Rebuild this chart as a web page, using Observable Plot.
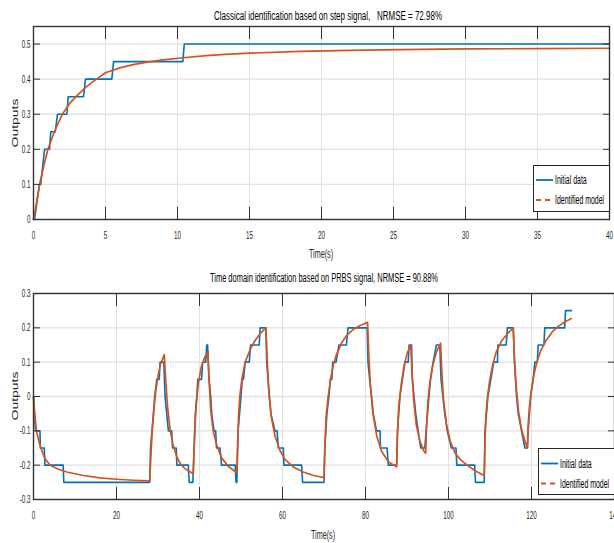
<!DOCTYPE html>
<html><head><meta charset="utf-8">
<script src="https://cdn.jsdelivr.net/npm/d3@7"></script>
<script src="https://cdn.jsdelivr.net/npm/@observablehq/plot@0.6"></script>
<style>
html,body{margin:0;padding:0;background:#fff;overflow:hidden;}
#wrap{position:relative;width:614px;height:543px;overflow:hidden;}
#wrap svg{position:absolute;left:0;}
</style></head><body><div id="wrap"></div>
<script>
// ---------- Top panel: step identification ----------
const stepTime  = [0, 0.07, 0.42, 0.5, 0.77, 1.11, 1.2, 1.51, 1.67, 2.32, 2.41, 3.47, 3.61, 5.44, 5.56, 10.37, 10.47, 40];
const stepData  = [0, 0, 0.1, 0.1, 0.2, 0.2, 0.25, 0.25, 0.3, 0.3, 0.35, 0.35, 0.4, 0.4, 0.45, 0.45, 0.5, 0.5];
const stepModelTime = [0, 0.2, 0.42, 0.7, 1.0, 1.45, 2.0, 2.5, 2.95, 3.6, 4.2, 5.0, 6.0, 7.0, 8.0, 9.0, 10.4, 12.0, 13.0, 15.0, 18.5, 22.0, 25.5, 30.0, 35.0, 40.0];
const stepModel     = [0, 0.045, 0.1, 0.15, 0.2, 0.25, 0.3, 0.33, 0.35, 0.376, 0.395, 0.418, 0.432, 0.442, 0.449, 0.455, 0.461, 0.467, 0.47, 0.474, 0.479, 0.482, 0.484, 0.486, 0.487, 0.488];
const stepXTicks = [0, 5, 10, 15, 20, 25, 30, 35, 40];
const stepXLabels = ["0", "5", "10", "15", "20", "25", "30", "35", "40"];
const stepYTicks = [0, 0.1, 0.2, 0.3, 0.4, 0.5];
const stepYLabels = ["0", "0.1", "0.2", "0.3", "0.4", "0.5"];

// ---------- Bottom panel: PRBS identification ----------
const prbsTime = [0,0.2,0.5,1.55,1.65,2.6,2.75,7.15,7.3,28.0,
 28.2,28.9,29.2,29.7,30.3,30.5,31.4,
 31.7,32.1,32.5,33.3,33.5,34.4,34.55,37.3,37.5,38.4,
 38.7,39.0,39.35,39.6,40.5,40.75,41.5,41.75,41.95,
 42.3,42.7,42.95,43.5,43.9,44.1,44.95,45.3,48.6,48.8,49.0,
 49.3,50.0,50.3,50.6,51.0,52.0,52.3,54.4,54.6,56.0,
 56.2,56.8,57.2,58.2,58.7,59.0,60.2,60.35,64.6,64.85,70.0,
 70.2,70.7,71.2,71.5,71.9,72.1,72.9,73.6,75.4,75.8,80.4,
 80.6,81.0,81.46,81.86,82.66,83.5,83.62,85.2,85.5,87.5,
 87.7,88.3,88.9,89.5,90.3,90.5,91.1,
 91.3,92.1,92.7,93.3,94.3,
 94.6,95.3,95.66,96.3,97.1,97.9,
 98.2,99.1,99.7,100.7,101.8,102.0,106.3,106.5,108.6,
 108.8,109.5,110.2,110.9,111.8,111.9,113.9,114.2,115.6,
 115.9,116.4,116.8,117.6,118.4,119.0,
 119.2,119.8,120.4,120.8,121.4,121.6,123.0,123.2,128.0,128.2,129.6];
const prbsData = [0,-0.05,-0.1,-0.1,-0.15,-0.15,-0.2,-0.2,-0.25,-0.25,
 -0.15,-0.05,0.0,0.05,0.05,0.1,0.1,
 0.0,-0.05,-0.1,-0.1,-0.15,-0.15,-0.2,-0.2,-0.25,-0.25,
 -0.15,-0.05,0.0,0.05,0.05,0.1,0.1,0.15,0.15,
 0.05,0.0,-0.05,-0.1,-0.1,-0.15,-0.15,-0.2,-0.2,-0.25,-0.25,
 -0.1,0.0,0.05,0.05,0.1,0.1,0.15,0.15,0.2,0.2,
 0.1,0.0,-0.05,-0.1,-0.1,-0.15,-0.15,-0.2,-0.2,-0.25,-0.25,
 -0.15,-0.05,0.0,0.05,0.05,0.1,0.1,0.15,0.15,0.2,0.2,
 0.1,0.05,0.0,-0.05,-0.1,-0.1,-0.15,-0.15,-0.2,-0.2,
 -0.1,0.0,0.05,0.1,0.1,0.15,0.15,
 0.05,-0.05,-0.1,-0.15,-0.15,
 -0.1,0.0,0.05,0.1,0.15,0.15,
 0.05,-0.05,-0.1,-0.15,-0.15,-0.2,-0.2,-0.25,-0.25,
 -0.1,0.0,0.05,0.1,0.1,0.15,0.15,0.2,0.2,
 0.1,0.0,-0.05,-0.1,-0.15,-0.15,
 -0.1,0.0,0.05,0.1,0.1,0.15,0.15,0.2,0.2,0.25,0.25];
const prbsModelTime = [0,0.3,0.7,1.5,2.7,4.0,6.0,8.0,12.0,16.0,20.0,24.0,28.0,
 28.3,28.6,29.0,29.5,30.0,30.6,31.5,
 31.9,32.3,32.9,33.6,34.5,35.5,36.5,38.5,
 38.7,38.9,39.3,39.8,40.4,41.2,42.0,
 42.3,42.7,43.3,44.1,45.3,46.9,49.0,
 49.2,49.4,49.7,50.2,51.0,52.2,53.4,54.6,56.0,
 56.3,56.7,57.3,58.2,59.4,60.6,62.6,65.0,67.5,70.0,
 70.2,70.5,71.0,71.6,72.2,73.0,74.2,75.4,77.0,78.6,80.5,
 80.8,81.2,81.8,82.7,83.9,85.5,87.5,
 87.7,88.0,88.6,89.3,90.1,90.9,
 91.2,91.6,92.2,93.1,94.0,94.5,
 94.7,95.0,95.5,96.2,97.1,98.1,
 98.4,98.8,99.5,100.4,101.6,102.8,104.5,106.5,108.6,
 108.8,109.0,109.4,109.9,110.6,111.5,112.7,114.2,115.6,
 115.9,116.3,116.9,117.6,118.4,119.0,
 119.2,119.5,120.0,120.6,121.3,122.2,123.5,125.0,126.5,128.0,129.6];
const prbsModel = [0,-0.05,-0.1,-0.14,-0.18,-0.2,-0.212,-0.22,-0.23,-0.237,-0.241,-0.244,-0.246,
 -0.17,-0.1,-0.04,0.02,0.06,0.093,0.122,
 0.04,-0.03,-0.095,-0.14,-0.175,-0.198,-0.21,-0.225,
 -0.15,-0.09,-0.01,0.045,0.085,0.113,0.13,
 0.05,-0.04,-0.1,-0.14,-0.178,-0.203,-0.222,
 -0.13,-0.06,0.0,0.05,0.1,0.137,0.163,0.183,0.2,
 0.11,0.02,-0.06,-0.115,-0.158,-0.183,-0.205,-0.22,-0.23,-0.236,
 -0.15,-0.06,0.0,0.05,0.09,0.122,0.155,0.177,0.195,0.206,0.216,
 0.12,0.03,-0.05,-0.115,-0.16,-0.19,-0.205,
 -0.12,-0.03,0.035,0.09,0.128,0.15,
 0.07,-0.01,-0.08,-0.13,-0.157,-0.165,
 -0.09,-0.02,0.04,0.09,0.13,0.155,
 0.07,-0.01,-0.08,-0.13,-0.165,-0.183,-0.2,-0.217,-0.23,
 -0.13,-0.06,0.0,0.045,0.09,0.13,0.16,0.183,0.2,
 0.11,0.03,-0.045,-0.095,-0.13,-0.15,
 -0.08,-0.03,0.02,0.065,0.1,0.133,0.163,0.188,0.205,0.217,0.227];
const prbsXTicks = [0, 20, 40, 60, 80, 100, 120, 140];
const prbsXLabels = ["0", "20", "40", "60", "80", "100", "120", "140"];
const prbsYTicks = [-0.3, -0.2, -0.1, 0, 0.1, 0.2, 0.3];
const prbsYLabels = ["-0.3", "-0.2", "-0.1", "0", "0.1", "0.2", "0.3"];

// ---------- Texts ----------
const titles = ["Classical identification based on step signal,   NRMSE = 72.98%",
                "Time domain identification based on PRBS signal, NRMSE = 90.88%"];
const xLabel = "Time(s)";
const yLabel = "Outputs";
const legendNames = ["Initial data", "Identified model"];

const BLUE = "#0072BD", ORANGE = "#D95319", AXIS = "#333333", GRID = "#e1e1e1";
const FONT = "'Liberation Sans', Arial, Helvetica, sans-serif";

function zipXY(t, v) { return t.map((d, i) => ({t: d, v: v[i]})); }

function panel(o) {
  const lab = (ticks, labels) => d => labels[ticks.indexOf(d)] ?? "";
  return Plot.plot({
    width: 614, height: o.height,
    marginTop: o.marginTop, marginBottom: o.marginBottom, marginLeft: 33, marginRight: o.marginRight,
    x: {domain: o.xDomain}, y: {domain: o.yDomain},
    style: {fontFamily: FONT, fontSize: "11px", color: "#262626", background: "transparent", overflow: "visible"},
    marks: [
      Plot.gridX(o.xTicks, {stroke: GRID, strokeOpacity: 1, strokeWidth: 1}),
      Plot.gridY(o.yTicks, {stroke: GRID, strokeOpacity: 1, strokeWidth: 1.3}),
      Plot.line(o.data, {x: "t", y: "v", stroke: BLUE, strokeWidth: 1.6}),
      Plot.line(o.model, {x: "t", y: "v", stroke: ORANGE, strokeWidth: 1.7}),
      Plot.frame({stroke: AXIS, strokeWidth: 1.4}),
      // inward tick marks on all four sides
      Plot.axisX(o.xTicks, {anchor: "bottom", tickSize: 12, dy: -12, tickFormat: () => "", label: null, stroke: AXIS}),
      Plot.axisX(o.xTicks, {anchor: "top", tickSize: 12, dy: 12, tickFormat: () => "", label: null, stroke: AXIS}),
      Plot.axisY(o.yTicks, {anchor: "left", tickSize: 7, dx: 7, tickFormat: () => "", label: null, stroke: AXIS}),
      Plot.axisY(o.yTicks, {anchor: "right", tickSize: 7, dx: -7, tickFormat: () => "", label: null, stroke: AXIS}),
      // tick labels
      Plot.axisX(o.xTicks, {anchor: "bottom", tickSize: 0, tickPadding: 12, tickFormat: lab(o.xTicks, o.xLabels), label: null, fill: "#262626"}),
      Plot.axisY(o.yTicks, {anchor: "left", tickSize: 0, tickPadding: 3, tickFormat: lab(o.yTicks, o.yLabels), label: null, fill: "#262626"})
    ]
  });
}

const wrap = document.getElementById("wrap");
const top1 = panel({
  height: 262, marginTop: 26, marginBottom: 43, marginRight: 5,
  xDomain: [0, 40], yDomain: [0, 0.55],
  xTicks: stepXTicks, xLabels: stepXLabels, yTicks: stepYTicks, yLabels: stepYLabels,
  data: zipXY(stepTime, stepData), model: zipXY(stepModelTime, stepModel)
});
top1.style.top = "0px";
wrap.appendChild(top1);

const bot = panel({
  height: 281, marginTop: 31, marginBottom: 44, marginRight: 0,
  xDomain: [0, 140], yDomain: [-0.3, 0.3],
  xTicks: prbsXTicks, xLabels: prbsXLabels, yTicks: prbsYTicks, yLabels: prbsYLabels,
  data: zipXY(prbsTime, prbsData), model: zipXY(prbsModelTime, prbsModel)
});
bot.style.top = "262px";
wrap.appendChild(bot);

// squeeze tick labels horizontally (the reference is a horizontally compressed MATLAB figure)
for (const svg of [top1, bot]) {
  svg.querySelectorAll("text").forEach(t => {
    const w = t.getComputedTextLength();
    if (w > 0) { t.setAttribute("textLength", (w * 0.57).toFixed(2)); t.setAttribute("lengthAdjust", "spacingAndGlyphs"); }
  });
}

// ---------- overlay: titles, axis labels, legends ----------
const ov = d3.select(wrap).append("svg").attr("width", 614).attr("height", 543)
  .style("top", "0px").style("font-family", FONT).style("overflow", "visible");

function squeezed(sel, factor) {
  sel.each(function () {
    const w = this.getComputedTextLength();
    this.setAttribute("textLength", (w * factor).toFixed(2));
    this.setAttribute("lengthAdjust", "spacingAndGlyphs");
  });
  return sel;
}

const titleSpec = [{x: 328, y: 20.2, w: 228}, {x: 324, y: 282, w: 228}];
titleSpec.forEach((s, i) => {
  ov.append("text").attr("x", s.x).attr("y", s.y).attr("text-anchor", "middle")
    .style("white-space", "pre").attr("xml:space", "preserve")
    .attr("font-size", 12).attr("fill", "#000").text(titles[i])
    .attr("textLength", s.w).attr("lengthAdjust", "spacingAndGlyphs");
});

[{x: 321, y: 258}, {x: 323, y: 539}].forEach(s => {
  squeezed(ov.append("text").attr("x", s.x).attr("y", s.y).attr("text-anchor", "middle")
    .attr("font-size", 12).attr("fill", "#262626").text(xLabel), 0.6);
});

[{x: 14.5, y: 123}, {x: 14.5, y: 396}].forEach(s => {
  ov.append("text").attr("transform", `translate(${s.x},${s.y}) rotate(-90) scale(1,0.62)`)
    .attr("text-anchor", "middle").attr("dy", "0.35em")
    .attr("font-size", 14).attr("fill", "#262626").text(yLabel);
});

function legend(x0, y0, x1, y1, rows, lineX0, lineX1, textX) {
  const g = ov.append("g");
  g.append("rect").attr("x", x0).attr("y", y0).attr("width", x1 - x0).attr("height", y1 - y0)
    .attr("fill", "#fff").attr("stroke", "#262626").attr("stroke-width", 1);
  legendNames.forEach((name, i) => {
    g.append("line").attr("x1", lineX0).attr("x2", lineX1).attr("y1", rows[i]).attr("y2", rows[i])
      .attr("stroke", i ? ORANGE : BLUE).attr("stroke-width", 1.8)
      .attr("stroke-dasharray", i ? "5,4" : null);
    squeezed(g.append("text").attr("x", textX).attr("y", rows[i]).attr("dy", "0.36em")
      .attr("font-size", 12).attr("fill", "#000").text(name), 0.58);
  });
}
legend(533.5, 165.5, 609.5, 211.5, [180, 200], 536, 553, 555);
legend(538.5, 448.5, 616, 494.5, [463.5, 483.5], 541, 558, 560);
</script>
</body></html>
